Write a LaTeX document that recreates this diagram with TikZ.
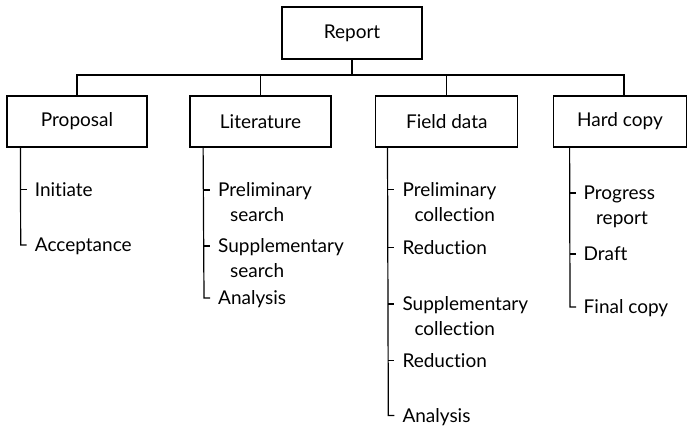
\documentclass[tikz,border=0pt]{standalone}
\usepackage{fontspec}
\newfontfamily\lbfont{Lato}[Ligatures={NoCommon,NoRare,NoContextual}]
\tikzset{
  wire/.style={line width=1.2pt},
  box/.style={draw, line width=1.2pt, minimum height=51pt, inner sep=0pt,
    font=\lbfont\fontsize{19}{23}\selectfont},
  lbl/.style={anchor=base west, inner sep=0pt,
    font=\lbfont\fontsize{19}{23}\selectfont},
}
\begin{document}
\begin{tikzpicture}[x=1pt,y=-1pt]
\useasboundingbox (0,0) rectangle (687,431);

% top level and the four branches
\node[box, minimum width=140pt, minimum height=52pt] (rep)  at (352,33)    {Report};
\node[box, minimum width=140pt] (prop) at (77,121.5)   {Proposal};
\node[box, minimum width=141pt] (lit)  at (260.5,121.5) {Literature};
\node[box, minimum width=142pt] (fld)  at (446.8,121.5) {Field data};
\node[box, minimum width=133pt] (hard) at (620,121.5)  {Hard copy};

\coordinate (bar) at (352,75);
\draw[wire] (rep.south) -- (bar);
\draw[wire] (bar) -| (prop.north);
\draw[wire] (bar) -| (lit.north);
\draw[wire] (bar) -| (fld.north);
\draw[wire] (bar) -| ([xshift=4pt]hard.north);

% Proposal
\coordinate (p1) at (20.7,189.5);
\coordinate (p2) at (20.7,245);
\draw[wire] ([xshift=14pt]prop.south west) -- (p2) -- ++(6,0);
\draw[wire] (p1) -- ++(6,0);
\node[lbl] (pl1) at ([shift={(14,6.5)}]p1) {Initiate};
\node[lbl] (pl2) at ([shift={(14,6.5)}]p2) {Acceptance};

% Literature
\coordinate (l1) at (204,190);
\coordinate (l2) at (204,246);
\coordinate (l3) at (204,298);
\draw[wire] ([xshift=13.7pt]lit.south west) -- (l3) -- ++(6,0);
\draw[wire] (l1) -- ++(6,0);
\draw[wire] (l2) -- ++(6,0);
\node[lbl] (ll1) at ([shift={(14,6.5)}]l1) {Preliminary};
\node[lbl] (ll1b) at ([shift={(12,25)}]ll1.base west) {search};
\node[lbl] (ll2) at ([shift={(14,6.5)}]l2) {Supplementary};
\node[lbl] (ll2b) at ([shift={(12,25)}]ll2.base west) {search};
\node[lbl] (ll3) at ([shift={(14,6.5)}]l3) {Analysis};

% Field data
\coordinate (f1) at (388.3,189.5);
\coordinate (f2) at (388.3,247.5);
\coordinate (f3) at (388.3,304);
\coordinate (f4) at (388.3,360.5);
\coordinate (f5) at (388.3,415.5);
\draw[wire] ([xshift=12.3pt]fld.south west) -- (f5) -- ++(6,0);
\foreach \c in {f1,f2,f3,f4} \draw[wire] (\c) -- ++(6,0);
\node[lbl] (fl1) at ([shift={(14,6.5)}]f1) {Preliminary};
\node[lbl] (fl1b) at ([shift={(12,25)}]fl1.base west) {collection};
\node[lbl] (fl2) at ([shift={(14,6.5)}]f2) {Reduction};
\node[lbl] (fl3) at ([shift={(14,6.5)}]f3) {Supplementary};
\node[lbl] (fl3b) at ([shift={(12,25)}]fl3.base west) {collection};
\node[lbl] (fl4) at ([shift={(14,6.5)}]f4) {Reduction};
\node[lbl] (fl5) at ([shift={(14,6.5)}]f5) {Analysis};

% Hard copy
\coordinate (h1) at (570,193);
\coordinate (h2) at (570,254);
\coordinate (h3) at (570,307);
\draw[wire] ([xshift=16.7pt]hard.south west) -- (h3) -- ++(6,0);
\draw[wire] (h1) -- ++(6,0);
\draw[wire] (h2) -- ++(6,0);
\node[lbl] (hl1) at ([shift={(13.5,6.5)}]h1) {Progress};
\node[lbl] (hl1b) at ([shift={(12.5,25)}]hl1.base west) {report};
\node[lbl] (hl2) at ([shift={(13.5,6.5)}]h2) {Draft};
\node[lbl] (hl3) at ([shift={(13.5,6.5)}]h3) {Final copy};
\end{tikzpicture}
\end{document}
